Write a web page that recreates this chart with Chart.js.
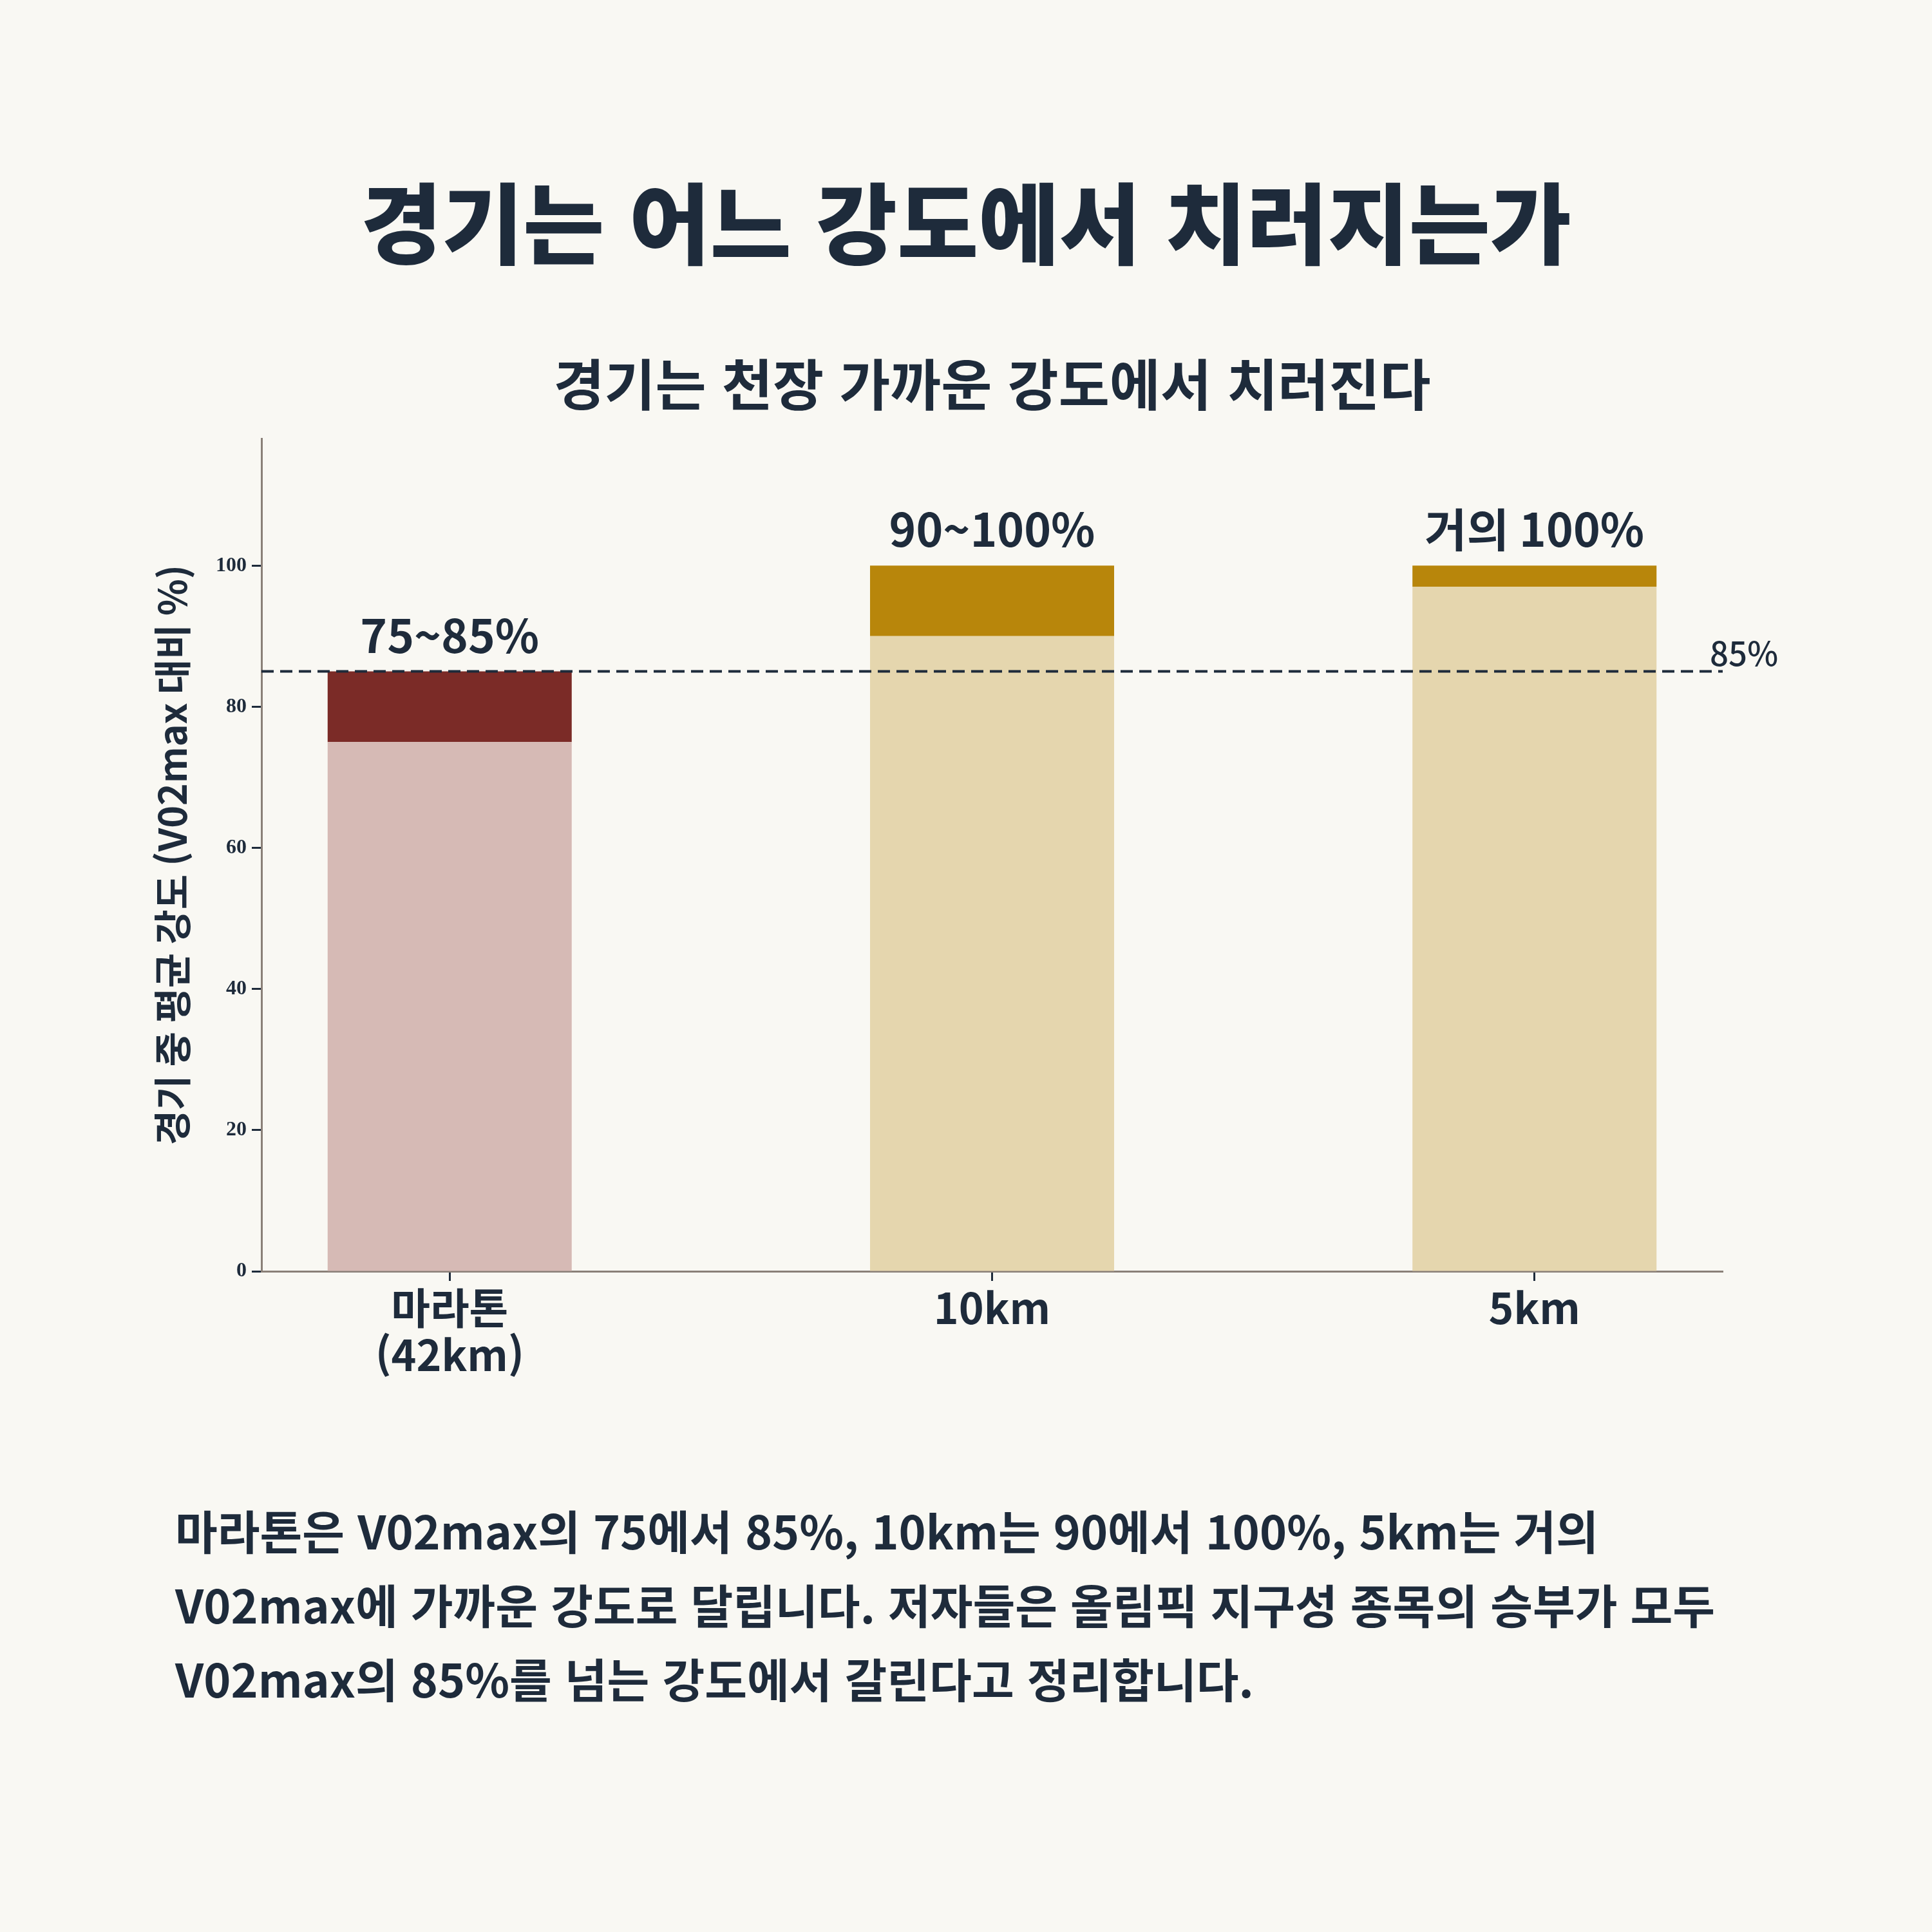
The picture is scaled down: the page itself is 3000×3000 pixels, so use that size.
<!DOCTYPE html>
<html lang="ko">
<head>
<meta charset="utf-8">
<script src="https://cdn.jsdelivr.net/npm/chart.js@4/dist/chart.umd.min.js"></script>
<style>
  html, body { margin: 0; padding: 0; background: #f9f8f3; }
  #page { position: relative; width: 3000px; height: 3000px; background: #f9f8f3; color: #1e2b3b; }
  #wrap { position: absolute; left: 0; top: 0; width: 3000px; height: 2200px; }
  .head { position: absolute; text-align: center; font-family: "Noto Sans CJK KR", sans-serif; }
  #title { left: 0; width: 3000px; top: 240px; height: 200px; line-height: 200px; font-size: 137px; font-weight: 900; }
  #subtitle { left: 406px; width: 2269px; top: 543px; height: 100px; line-height: 100px; font-size: 86px; font-weight: 700; }
  #note {
    position: absolute; left: 272px; top: 2318px; width: 2600px;
    font-family: "Noto Sans CJK KR", sans-serif; font-weight: 700;
    font-size: 71.5px; line-height: 115px; white-space: nowrap;
  }
</style>
</head>
<body>
<div id="page">
  <div id="title" class="head">경기는 어느 강도에서 치러지는가</div>
  <div id="subtitle" class="head">경기는 천장 가까운 강도에서 치러진다</div>
  <div id="wrap"><canvas id="raceChart"></canvas></div>
  <div id="note">마라톤은 V02max의 75에서 85%, 10km는 90에서 100%, 5km는 거의<br>V02max에 가까운 강도로 달립니다. 저자들은 올림픽 지구성 종목의 승부가 모두<br>V02max의 85%를 넘는 강도에서 갈린다고 정리합니다.</div>
</div>
<script>
// data
var categories = [['마라톤', '(42km)'], '10km', '5km'];
var lowValues = [75, 90, 97];
var highValues = [85, 100, 100];
var rangeLabels = ['75~85%', '90~100%', '거의 100%'];
var yTicks = [0, 20, 40, 60, 80, 100];
var threshold = 85;
var thresholdLabel = '85%';

var baseColors = ['#d6bab5', '#e5d6ae', '#e5d6ae'];
var topColors = ['#7b2b27', '#b8860b', '#b8860b'];
var ink = '#1e2b3b';

// dashed 85% line + range labels over the bars
var overlay = {
  id: 'overlay',
  afterDatasetsDraw: function(chart) {
    var ctx = chart.ctx, area = chart.chartArea;
    var y = chart.scales.y.getPixelForValue(threshold);
    ctx.save();
    ctx.strokeStyle = ink;
    ctx.lineWidth = 4;
    ctx.setLineDash([19, 10]);
    ctx.beginPath();
    ctx.moveTo(area.left, y);
    ctx.lineTo(area.right, y);
    ctx.stroke();
    ctx.setLineDash([]);
    ctx.fillStyle = ink;
    ctx.font = '500 51px "Noto Sans CJK KR"';
    ctx.textAlign = 'left';
    ctx.textBaseline = 'middle';
    ctx.fillText(thresholdLabel, area.right - 20, y - 28);

    var meta = chart.getDatasetMeta(1);
    ctx.font = '700 71px "Noto Sans CJK KR"';
    ctx.textAlign = 'center';
    meta.data.forEach(function(bar, i) {
      ctx.fillText(rangeLabels[i], bar.x, bar.y - 56);
    });
    ctx.restore();
  }
};

var raceCtx = document.getElementById('raceChart').getContext('2d');
window.raceBar = new Chart(raceCtx, {
  type: 'bar',
  data: {
    datasets: [{
      data: lowValues.map(function(v, i) { return {x: i, y: v}; }),
      backgroundColor: baseColors,
      borderWidth: 0
    }, {
      data: highValues.map(function(v, i) { return {x: i, y: v - lowValues[i]}; }),
      backgroundColor: topColors,
      borderWidth: 0
    }]
  },
  options: {
    responsive: true,
    maintainAspectRatio: false,
    devicePixelRatio: 1,
    animation: false,
    categoryPercentage: 1,
    barPercentage: 0.45,
    layout: { padding: { left: 0, right: 325, top: 681, bottom: 0 } },
    plugins: {
      legend: { display: false },
      tooltip: { enabled: false }
    },
    scales: {
      x: {
        type: 'linear',
        stacked: true,
        offset: false,
        min: -0.347,
        max: 2.347,
        afterBuildTicks: function(s) {
          s.ticks = categories.map(function(c, i) { return {value: i}; });
        },
        afterFit: function(s) { s.height = 226; },
        border: { color: '#8a8078', width: 3 },
        grid: { offset: false, drawOnChartArea: false, drawTicks: true, tickLength: 15, tickColor: ink, tickWidth: 3 },
        ticks: {
          color: ink,
          padding: 6,
          maxRotation: 0,
          font: { family: '"Noto Sans CJK KR"', size: 66, weight: '700', lineHeight: 1.1 },
          callback: function(v) { return categories[v]; }
        }
      },
      y: {
        stacked: true,
        min: 0,
        max: 118,
        afterBuildTicks: function(s) {
          s.ticks = yTicks.map(function(v) { return {value: v}; });
        },
        afterFit: function(s) { s.width = 406; },
        border: { color: '#8a8078', width: 3 },
        grid: { drawOnChartArea: false, drawTicks: true, tickLength: 15, tickColor: ink, tickWidth: 3 },
        ticks: {
          color: ink,
          padding: 8,
          font: { family: '"Liberation Serif"', size: 32, weight: '700' }
        },
        title: {
          display: true,
          text: '경기 중 평균 강도 (V02max 대비 %)',
          color: ink,
          font: { family: '"Noto Sans CJK KR"', size: 59, weight: '700' },
          padding: { top: 232, bottom: 0 }
        }
      }
    }
  },
  plugins: [overlay]
});
</script>
</body>
</html>
